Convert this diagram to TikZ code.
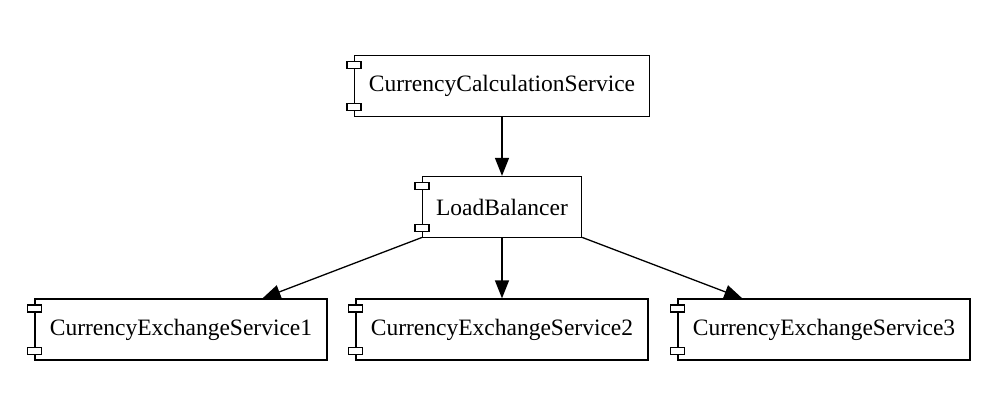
\documentclass[tikz,border=0pt]{standalone}
\usepackage{fontspec}
\setmainfont{Liberation Serif}
\usetikzlibrary{arrows.meta}

\begin{document}
\begin{tikzpicture}
				[
					x=1pt, y=-1pt,
					font=\fontsize{23.5}{28}\selectfont,
					compnode/.style={rectangle, draw=black, fill=white, line width=1.3pt, minimum height=61pt, inner sep=0pt},
					tabnode/.style={rectangle, draw=black, fill=white, line width=1.3pt, minimum width=14pt, minimum height=7pt, inner sep=0pt, outer sep=0pt},
					flowarrow/.style={-{Triangle[length=18pt,width=14pt]}, line width=1.3pt},
				]
				\useasboundingbox (0,0) rectangle (997,404);

				\node [compnode, minimum width=295pt] (calc) at (502,86) {CurrencyCalculationService};
				\node [compnode, minimum width=159pt] (balancer) at (502,207) {LoadBalancer};
				\node [compnode, minimum width=292pt] (exchange1) at (181,329.5) {CurrencyExchangeService1};
				\node [compnode, minimum width=292pt] (exchange2) at (502,329.5) {CurrencyExchangeService2};
				\node [compnode, minimum width=292pt] (exchange3) at (824,329.5) {CurrencyExchangeService3};

				% component tabs on the left edge
				\foreach \n in {calc,balancer,exchange1,exchange2,exchange3}
				{
					\node [tabnode] (\n-tabtop) at ([yshift=-10pt]\n.north west) {};
					\node [tabnode] (\n-tabbottom) at ([yshift=10pt]\n.south west) {};
				}

				\draw [flowarrow] (calc) -- (balancer);
				\draw [flowarrow] (balancer) -- (exchange1);
				\draw [flowarrow] (balancer) -- (exchange2);
				\draw [flowarrow] (balancer) -- (exchange3);

			\end{tikzpicture}
\end{document}
